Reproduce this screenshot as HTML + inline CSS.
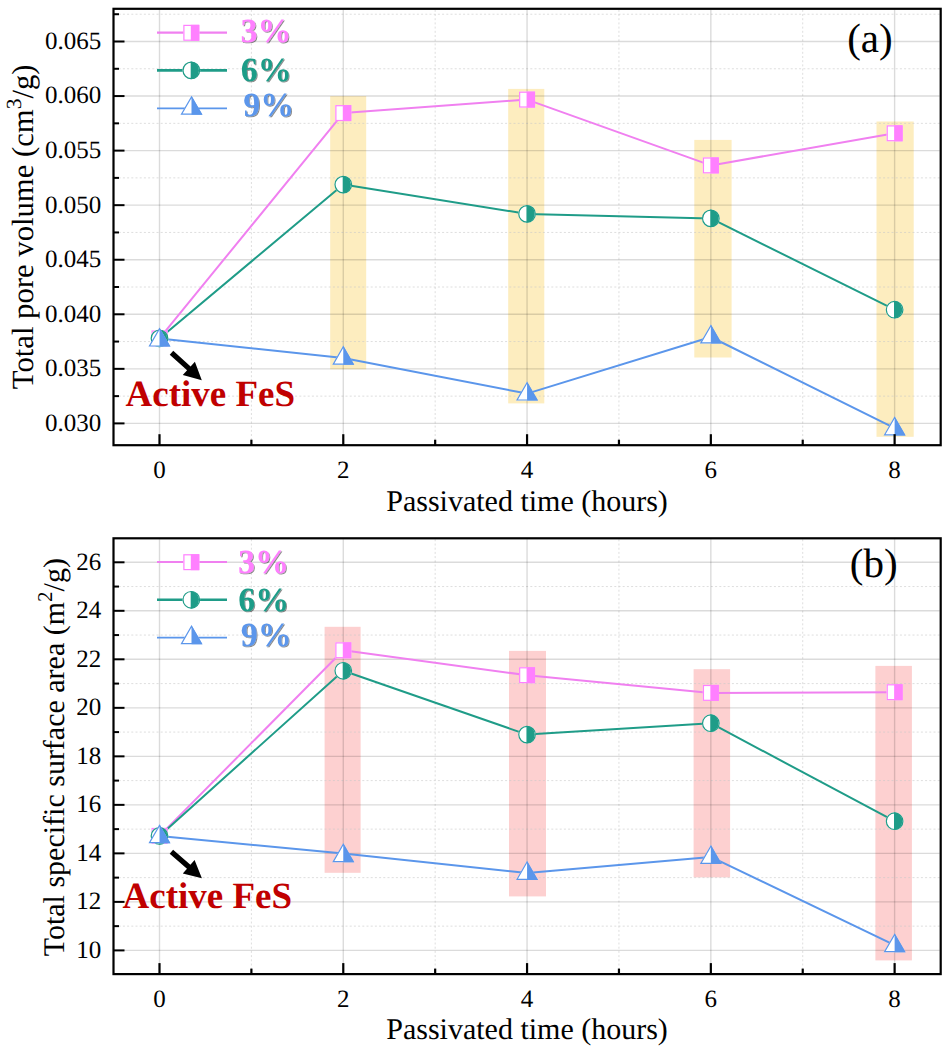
<!DOCTYPE html>
<html><head><meta charset="utf-8"><title>Pore volume and surface area</title>
<style>html,body{margin:0;padding:0;background:#fff;}svg{display:block;}text{text-rendering:geometricPrecision;font-family:'Liberation Serif', serif;}</style>
</head><body>
<svg width="945" height="1047" viewBox="0 0 945 1047">
<rect width="945" height="1047" fill="#fff"/>
<defs><filter id="sh" x="-10%" y="-10%" width="130%" height="140%"><feGaussianBlur in="SourceAlpha" stdDeviation="0.6"/><feOffset dx="1.4" dy="1.4" result="o"/><feFlood flood-color="#000" flood-opacity="0.45"/><feComposite in2="o" operator="in"/><feMerge><feMergeNode/><feMergeNode in="SourceGraphic"/></feMerge></filter></defs>
<rect x="330.2" y="96.1" width="36.00" height="273.20" fill="#fdedbf"/>
<rect x="508.2" y="88.9" width="36.10" height="314.50" fill="#fdedbf"/>
<rect x="694.3" y="139.9" width="37.30" height="217.60" fill="#fdedbf"/>
<rect x="876.5" y="121.5" width="37.20" height="315.30" fill="#fdedbf"/>
<line x1="114.5" x2="939.7" y1="396.12" y2="396.12" stroke="#c8c8c8" stroke-width="1" stroke-dasharray="2 2.2" opacity="0.6"/>
<line x1="114.5" x2="939.7" y1="341.56" y2="341.56" stroke="#c8c8c8" stroke-width="1" stroke-dasharray="2 2.2" opacity="0.6"/>
<line x1="114.5" x2="939.7" y1="287.01" y2="287.01" stroke="#c8c8c8" stroke-width="1" stroke-dasharray="2 2.2" opacity="0.6"/>
<line x1="114.5" x2="939.7" y1="232.45" y2="232.45" stroke="#c8c8c8" stroke-width="1" stroke-dasharray="2 2.2" opacity="0.6"/>
<line x1="114.5" x2="939.7" y1="177.89" y2="177.89" stroke="#c8c8c8" stroke-width="1" stroke-dasharray="2 2.2" opacity="0.6"/>
<line x1="114.5" x2="939.7" y1="123.34" y2="123.34" stroke="#c8c8c8" stroke-width="1" stroke-dasharray="2 2.2" opacity="0.6"/>
<line x1="114.5" x2="939.7" y1="68.78" y2="68.78" stroke="#c8c8c8" stroke-width="1" stroke-dasharray="2 2.2" opacity="0.6"/>
<line x1="114.5" x2="939.7" y1="14.22" y2="14.22" stroke="#c8c8c8" stroke-width="1" stroke-dasharray="2 2.2" opacity="0.6"/>
<line x1="251.39" x2="251.39" y1="9.8" y2="444.2" stroke="#c8c8c8" stroke-width="1" stroke-dasharray="2 2.2" opacity="0.6"/>
<line x1="435.17" x2="435.17" y1="9.8" y2="444.2" stroke="#c8c8c8" stroke-width="1" stroke-dasharray="2 2.2" opacity="0.6"/>
<line x1="618.95" x2="618.95" y1="9.8" y2="444.2" stroke="#c8c8c8" stroke-width="1" stroke-dasharray="2 2.2" opacity="0.6"/>
<line x1="802.73" x2="802.73" y1="9.8" y2="444.2" stroke="#c8c8c8" stroke-width="1" stroke-dasharray="2 2.2" opacity="0.6"/>
<line x1="114.5" x2="939.7" y1="423.40" y2="423.40" stroke="#000" stroke-opacity="0.14" stroke-width="1.4"/>
<line x1="114.5" x2="939.7" y1="368.84" y2="368.84" stroke="#000" stroke-opacity="0.14" stroke-width="1.4"/>
<line x1="114.5" x2="939.7" y1="314.29" y2="314.29" stroke="#000" stroke-opacity="0.14" stroke-width="1.4"/>
<line x1="114.5" x2="939.7" y1="259.73" y2="259.73" stroke="#000" stroke-opacity="0.14" stroke-width="1.4"/>
<line x1="114.5" x2="939.7" y1="205.17" y2="205.17" stroke="#000" stroke-opacity="0.14" stroke-width="1.4"/>
<line x1="114.5" x2="939.7" y1="150.61" y2="150.61" stroke="#000" stroke-opacity="0.14" stroke-width="1.4"/>
<line x1="114.5" x2="939.7" y1="96.06" y2="96.06" stroke="#000" stroke-opacity="0.14" stroke-width="1.4"/>
<line x1="114.5" x2="939.7" y1="41.50" y2="41.50" stroke="#000" stroke-opacity="0.14" stroke-width="1.4"/>
<line x1="159.50" x2="159.50" y1="9.8" y2="444.2" stroke="#000" stroke-opacity="0.14" stroke-width="1.4"/>
<line x1="343.28" x2="343.28" y1="9.8" y2="444.2" stroke="#000" stroke-opacity="0.14" stroke-width="1.4"/>
<line x1="527.06" x2="527.06" y1="9.8" y2="444.2" stroke="#000" stroke-opacity="0.14" stroke-width="1.4"/>
<line x1="710.84" x2="710.84" y1="9.8" y2="444.2" stroke="#000" stroke-opacity="0.14" stroke-width="1.4"/>
<line x1="894.62" x2="894.62" y1="9.8" y2="444.2" stroke="#000" stroke-opacity="0.14" stroke-width="1.4"/>
<polyline points="159.50,338.40 343.28,113.10 527.06,99.60 710.84,165.40 894.62,133.30" fill="none" stroke="#f080f0" stroke-width="2.0" stroke-linejoin="round"/>
<polyline points="159.50,338.40 343.28,184.60 527.06,213.90 710.84,218.40 894.62,309.70" fill="none" stroke="#1f9c88" stroke-width="2.0" stroke-linejoin="round"/>
<polyline points="159.50,338.40 343.28,358.00 527.06,393.60 710.84,337.00 894.62,428.20" fill="none" stroke="#5b96eb" stroke-width="2.0" stroke-linejoin="round"/>
<rect x="151.50" y="330.40" width="16.00" height="16.00" fill="#fff"/>
<rect x="159.00" y="330.40" width="8.50" height="16.00" fill="#ff80ff"/>
<rect x="152.10" y="331.00" width="14.80" height="14.80" fill="none" stroke="#ff80ff" stroke-width="1.2"/>
<rect x="335.28" y="105.10" width="16.00" height="16.00" fill="#fff"/>
<rect x="342.78" y="105.10" width="8.50" height="16.00" fill="#ff80ff"/>
<rect x="335.88" y="105.70" width="14.80" height="14.80" fill="none" stroke="#ff80ff" stroke-width="1.2"/>
<rect x="519.06" y="91.60" width="16.00" height="16.00" fill="#fff"/>
<rect x="526.56" y="91.60" width="8.50" height="16.00" fill="#ff80ff"/>
<rect x="519.66" y="92.20" width="14.80" height="14.80" fill="none" stroke="#ff80ff" stroke-width="1.2"/>
<rect x="702.84" y="157.40" width="16.00" height="16.00" fill="#fff"/>
<rect x="710.34" y="157.40" width="8.50" height="16.00" fill="#ff80ff"/>
<rect x="703.44" y="158.00" width="14.80" height="14.80" fill="none" stroke="#ff80ff" stroke-width="1.2"/>
<rect x="886.62" y="125.30" width="16.00" height="16.00" fill="#fff"/>
<rect x="894.12" y="125.30" width="8.50" height="16.00" fill="#ff80ff"/>
<rect x="887.22" y="125.90" width="14.80" height="14.80" fill="none" stroke="#ff80ff" stroke-width="1.2"/>
<circle cx="159.50" cy="338.40" r="8.90" fill="#fff"/>
<path d="M158.90,329.52 A8.90,8.90 0 0 1 158.90,347.28 Z" fill="#1f9c88"/>
<circle cx="159.50" cy="338.40" r="8.30" fill="none" stroke="#1f9c88" stroke-width="1.2"/>
<circle cx="343.28" cy="184.60" r="8.90" fill="#fff"/>
<path d="M342.68,175.72 A8.90,8.90 0 0 1 342.68,193.48 Z" fill="#1f9c88"/>
<circle cx="343.28" cy="184.60" r="8.30" fill="none" stroke="#1f9c88" stroke-width="1.2"/>
<circle cx="527.06" cy="213.90" r="8.90" fill="#fff"/>
<path d="M526.46,205.02 A8.90,8.90 0 0 1 526.46,222.78 Z" fill="#1f9c88"/>
<circle cx="527.06" cy="213.90" r="8.30" fill="none" stroke="#1f9c88" stroke-width="1.2"/>
<circle cx="710.84" cy="218.40" r="8.90" fill="#fff"/>
<path d="M710.24,209.52 A8.90,8.90 0 0 1 710.24,227.28 Z" fill="#1f9c88"/>
<circle cx="710.84" cy="218.40" r="8.30" fill="none" stroke="#1f9c88" stroke-width="1.2"/>
<circle cx="894.62" cy="309.70" r="8.90" fill="#fff"/>
<path d="M894.02,300.82 A8.90,8.90 0 0 1 894.02,318.58 Z" fill="#1f9c88"/>
<circle cx="894.62" cy="309.70" r="8.30" fill="none" stroke="#1f9c88" stroke-width="1.2"/>
<path d="M159.50,327.70 L170.30,346.60 L148.70,346.60 Z" fill="#fff"/>
<path d="M159.50,327.70 L170.30,346.60 L159.50,346.60 Z" fill="#5b96eb"/>
<path d="M159.50,328.70 L169.50,346.00 L149.50,346.00 Z" fill="none" stroke="#5b96eb" stroke-width="1.2" stroke-linejoin="miter"/>
<path d="M343.28,345.80 L354.08,364.70 L332.48,364.70 Z" fill="#fff"/>
<path d="M343.28,345.80 L354.08,364.70 L343.28,364.70 Z" fill="#5b96eb"/>
<path d="M343.28,346.80 L353.28,364.10 L333.28,364.10 Z" fill="none" stroke="#5b96eb" stroke-width="1.2" stroke-linejoin="miter"/>
<path d="M527.06,381.70 L537.86,400.60 L516.26,400.60 Z" fill="#fff"/>
<path d="M527.06,381.70 L537.86,400.60 L527.06,400.60 Z" fill="#5b96eb"/>
<path d="M527.06,382.70 L537.06,400.00 L517.06,400.00 Z" fill="none" stroke="#5b96eb" stroke-width="1.2" stroke-linejoin="miter"/>
<path d="M710.84,324.60 L721.64,343.50 L700.04,343.50 Z" fill="#fff"/>
<path d="M710.84,324.60 L721.64,343.50 L710.84,343.50 Z" fill="#5b96eb"/>
<path d="M710.84,325.60 L720.84,342.90 L700.84,342.90 Z" fill="none" stroke="#5b96eb" stroke-width="1.2" stroke-linejoin="miter"/>
<path d="M894.62,416.50 L905.42,435.40 L883.82,435.40 Z" fill="#fff"/>
<path d="M894.62,416.50 L905.42,435.40 L894.62,435.40 Z" fill="#5b96eb"/>
<path d="M894.62,417.50 L904.62,434.80 L884.62,434.80 Z" fill="none" stroke="#5b96eb" stroke-width="1.2" stroke-linejoin="miter"/>
<rect x="113.5" y="8.8" width="827.20" height="436.40" fill="none" stroke="#000" stroke-width="2.2"/>
<line x1="113.5" x2="124.5" y1="423.40" y2="423.40" stroke="#000" stroke-width="2"/>
<line x1="113.5" x2="124.5" y1="368.84" y2="368.84" stroke="#000" stroke-width="2"/>
<line x1="113.5" x2="124.5" y1="314.29" y2="314.29" stroke="#000" stroke-width="2"/>
<line x1="113.5" x2="124.5" y1="259.73" y2="259.73" stroke="#000" stroke-width="2"/>
<line x1="113.5" x2="124.5" y1="205.17" y2="205.17" stroke="#000" stroke-width="2"/>
<line x1="113.5" x2="124.5" y1="150.61" y2="150.61" stroke="#000" stroke-width="2"/>
<line x1="113.5" x2="124.5" y1="96.06" y2="96.06" stroke="#000" stroke-width="2"/>
<line x1="113.5" x2="124.5" y1="41.50" y2="41.50" stroke="#000" stroke-width="2"/>
<line x1="113.5" x2="119.0" y1="396.12" y2="396.12" stroke="#000" stroke-width="2"/>
<line x1="113.5" x2="119.0" y1="341.56" y2="341.56" stroke="#000" stroke-width="2"/>
<line x1="113.5" x2="119.0" y1="287.01" y2="287.01" stroke="#000" stroke-width="2"/>
<line x1="113.5" x2="119.0" y1="232.45" y2="232.45" stroke="#000" stroke-width="2"/>
<line x1="113.5" x2="119.0" y1="177.89" y2="177.89" stroke="#000" stroke-width="2"/>
<line x1="113.5" x2="119.0" y1="123.34" y2="123.34" stroke="#000" stroke-width="2"/>
<line x1="113.5" x2="119.0" y1="68.78" y2="68.78" stroke="#000" stroke-width="2"/>
<line x1="113.5" x2="119.0" y1="14.22" y2="14.22" stroke="#000" stroke-width="2"/>
<line x1="159.50" x2="159.50" y1="445.2" y2="434.2" stroke="#000" stroke-width="2.2"/>
<line x1="343.28" x2="343.28" y1="445.2" y2="434.2" stroke="#000" stroke-width="2.2"/>
<line x1="527.06" x2="527.06" y1="445.2" y2="434.2" stroke="#000" stroke-width="2.2"/>
<line x1="710.84" x2="710.84" y1="445.2" y2="434.2" stroke="#000" stroke-width="2.2"/>
<line x1="894.62" x2="894.62" y1="445.2" y2="434.2" stroke="#000" stroke-width="2.2"/>
<line x1="251.39" x2="251.39" y1="445.2" y2="439.7" stroke="#000" stroke-width="2.2"/>
<line x1="435.17" x2="435.17" y1="445.2" y2="439.7" stroke="#000" stroke-width="2.2"/>
<line x1="618.95" x2="618.95" y1="445.2" y2="439.7" stroke="#000" stroke-width="2.2"/>
<line x1="802.73" x2="802.73" y1="445.2" y2="439.7" stroke="#000" stroke-width="2.2"/>
<text x="101.3" y="430.75" text-anchor="end" font-size="25">0.030</text>
<text x="101.3" y="376.19" text-anchor="end" font-size="25">0.035</text>
<text x="101.3" y="321.64" text-anchor="end" font-size="25">0.040</text>
<text x="101.3" y="267.08" text-anchor="end" font-size="25">0.045</text>
<text x="101.3" y="212.52" text-anchor="end" font-size="25">0.050</text>
<text x="101.3" y="157.96" text-anchor="end" font-size="25">0.055</text>
<text x="101.3" y="103.41" text-anchor="end" font-size="25">0.060</text>
<text x="101.3" y="48.85" text-anchor="end" font-size="25">0.065</text>
<text x="159.50" y="477.90" text-anchor="middle" font-size="25">0</text>
<text x="343.28" y="477.90" text-anchor="middle" font-size="25">2</text>
<text x="527.06" y="477.90" text-anchor="middle" font-size="25">4</text>
<text x="710.84" y="477.90" text-anchor="middle" font-size="25">6</text>
<text x="894.62" y="477.90" text-anchor="middle" font-size="25">8</text>
<text x="527.06" y="510.50" text-anchor="middle" font-size="30">Passivated time (hours)</text>
<text transform="translate(33.0,226.8) rotate(-90)" text-anchor="middle" font-size="30.7">Total pore volume (cm<tspan font-size="21.5" dy="-12">3</tspan><tspan dy="12">/g)</tspan></text>
<text x="847.2" y="51.5" font-size="41">(a)</text>
<line x1="157" x2="227" y1="32.6" y2="32.6" stroke="#f080f0" stroke-width="2.1"/>
<line x1="157" x2="227" y1="70.4" y2="70.4" stroke="#1f9c88" stroke-width="2.6"/>
<line x1="157" x2="227" y1="108.3" y2="108.3" stroke="#5b96eb" stroke-width="1.8"/>
<rect x="183.30" y="24.80" width="16.00" height="16.00" fill="#fff"/>
<rect x="190.80" y="24.80" width="8.50" height="16.00" fill="#ff80ff"/>
<rect x="183.90" y="25.40" width="14.80" height="14.80" fill="none" stroke="#ff80ff" stroke-width="1.2"/>
<circle cx="191.30" cy="70.40" r="8.90" fill="#fff"/>
<path d="M190.70,61.52 A8.90,8.90 0 0 1 190.70,79.28 Z" fill="#1f9c88"/>
<circle cx="191.30" cy="70.40" r="8.30" fill="none" stroke="#1f9c88" stroke-width="1.2"/>
<path d="M191.50,95.90 L202.30,114.80 L180.70,114.80 Z" fill="#fff"/>
<path d="M191.50,95.90 L202.30,114.80 L191.50,114.80 Z" fill="#5b96eb"/>
<path d="M191.50,96.90 L201.50,114.20 L181.50,114.20 Z" fill="none" stroke="#5b96eb" stroke-width="1.2" stroke-linejoin="miter"/>
<text x="240.50" y="42.00" font-size="34" font-weight="bold" fill="#ff80ff" filter="url(#sh)">3%</text>
<text x="240.80" y="80.60" font-size="34" font-weight="bold" fill="#1f9c88" filter="url(#sh)">6%</text>
<text x="243.20" y="115.60" font-size="34" font-weight="bold" fill="#5b96eb" filter="url(#sh)">9%</text>
<path d="M169.75,354.63 L187.09,370.36 L182.79,375.10 L201.80,380.20 L194.89,361.77 L190.59,366.51 L173.25,350.77 Z" fill="#000"/>
<text x="125.5" y="405.7" font-size="37" font-weight="bold" fill="#c00000">Active FeS</text>
<rect x="324.6" y="626.8" width="36.00" height="246.00" fill="#fdd0d0"/>
<rect x="509.0" y="650.9" width="37.00" height="245.50" fill="#fdd0d0"/>
<rect x="693.6" y="669.2" width="36.50" height="208.20" fill="#fdd0d0"/>
<rect x="875.4" y="665.9" width="36.50" height="294.50" fill="#fdd0d0"/>
<line x1="114.5" x2="939.7" y1="926.14" y2="926.14" stroke="#c8c8c8" stroke-width="1" stroke-dasharray="2 2.2" opacity="0.6"/>
<line x1="114.5" x2="939.7" y1="877.63" y2="877.63" stroke="#c8c8c8" stroke-width="1" stroke-dasharray="2 2.2" opacity="0.6"/>
<line x1="114.5" x2="939.7" y1="829.12" y2="829.12" stroke="#c8c8c8" stroke-width="1" stroke-dasharray="2 2.2" opacity="0.6"/>
<line x1="114.5" x2="939.7" y1="780.60" y2="780.60" stroke="#c8c8c8" stroke-width="1" stroke-dasharray="2 2.2" opacity="0.6"/>
<line x1="114.5" x2="939.7" y1="732.09" y2="732.09" stroke="#c8c8c8" stroke-width="1" stroke-dasharray="2 2.2" opacity="0.6"/>
<line x1="114.5" x2="939.7" y1="683.58" y2="683.58" stroke="#c8c8c8" stroke-width="1" stroke-dasharray="2 2.2" opacity="0.6"/>
<line x1="114.5" x2="939.7" y1="635.07" y2="635.07" stroke="#c8c8c8" stroke-width="1" stroke-dasharray="2 2.2" opacity="0.6"/>
<line x1="114.5" x2="939.7" y1="586.56" y2="586.56" stroke="#c8c8c8" stroke-width="1" stroke-dasharray="2 2.2" opacity="0.6"/>
<line x1="251.39" x2="251.39" y1="539.3" y2="973.1" stroke="#c8c8c8" stroke-width="1" stroke-dasharray="2 2.2" opacity="0.6"/>
<line x1="435.17" x2="435.17" y1="539.3" y2="973.1" stroke="#c8c8c8" stroke-width="1" stroke-dasharray="2 2.2" opacity="0.6"/>
<line x1="618.95" x2="618.95" y1="539.3" y2="973.1" stroke="#c8c8c8" stroke-width="1" stroke-dasharray="2 2.2" opacity="0.6"/>
<line x1="802.73" x2="802.73" y1="539.3" y2="973.1" stroke="#c8c8c8" stroke-width="1" stroke-dasharray="2 2.2" opacity="0.6"/>
<line x1="114.5" x2="939.7" y1="950.40" y2="950.40" stroke="#000" stroke-opacity="0.14" stroke-width="1.4"/>
<line x1="114.5" x2="939.7" y1="901.88" y2="901.88" stroke="#000" stroke-opacity="0.14" stroke-width="1.4"/>
<line x1="114.5" x2="939.7" y1="853.37" y2="853.37" stroke="#000" stroke-opacity="0.14" stroke-width="1.4"/>
<line x1="114.5" x2="939.7" y1="804.86" y2="804.86" stroke="#000" stroke-opacity="0.14" stroke-width="1.4"/>
<line x1="114.5" x2="939.7" y1="756.35" y2="756.35" stroke="#000" stroke-opacity="0.14" stroke-width="1.4"/>
<line x1="114.5" x2="939.7" y1="707.84" y2="707.84" stroke="#000" stroke-opacity="0.14" stroke-width="1.4"/>
<line x1="114.5" x2="939.7" y1="659.32" y2="659.32" stroke="#000" stroke-opacity="0.14" stroke-width="1.4"/>
<line x1="114.5" x2="939.7" y1="610.81" y2="610.81" stroke="#000" stroke-opacity="0.14" stroke-width="1.4"/>
<line x1="114.5" x2="939.7" y1="562.30" y2="562.30" stroke="#000" stroke-opacity="0.14" stroke-width="1.4"/>
<line x1="159.50" x2="159.50" y1="539.3" y2="973.1" stroke="#000" stroke-opacity="0.14" stroke-width="1.4"/>
<line x1="343.28" x2="343.28" y1="539.3" y2="973.1" stroke="#000" stroke-opacity="0.14" stroke-width="1.4"/>
<line x1="527.06" x2="527.06" y1="539.3" y2="973.1" stroke="#000" stroke-opacity="0.14" stroke-width="1.4"/>
<line x1="710.84" x2="710.84" y1="539.3" y2="973.1" stroke="#000" stroke-opacity="0.14" stroke-width="1.4"/>
<line x1="894.62" x2="894.62" y1="539.3" y2="973.1" stroke="#000" stroke-opacity="0.14" stroke-width="1.4"/>
<polyline points="159.50,835.90 343.28,650.30 527.06,675.20 710.84,692.90 894.62,692.20" fill="none" stroke="#f080f0" stroke-width="2.0" stroke-linejoin="round"/>
<polyline points="159.50,835.90 343.28,670.80 527.06,734.60 710.84,723.20 894.62,821.20" fill="none" stroke="#1f9c88" stroke-width="2.0" stroke-linejoin="round"/>
<polyline points="159.50,835.90 343.28,853.50 527.06,873.10 710.84,856.90 894.62,945.10" fill="none" stroke="#5b96eb" stroke-width="2.0" stroke-linejoin="round"/>
<rect x="151.50" y="827.90" width="16.00" height="16.00" fill="#fff"/>
<rect x="159.00" y="827.90" width="8.50" height="16.00" fill="#ff80ff"/>
<rect x="152.10" y="828.50" width="14.80" height="14.80" fill="none" stroke="#ff80ff" stroke-width="1.2"/>
<rect x="335.28" y="642.30" width="16.00" height="16.00" fill="#fff"/>
<rect x="342.78" y="642.30" width="8.50" height="16.00" fill="#ff80ff"/>
<rect x="335.88" y="642.90" width="14.80" height="14.80" fill="none" stroke="#ff80ff" stroke-width="1.2"/>
<rect x="519.06" y="667.20" width="16.00" height="16.00" fill="#fff"/>
<rect x="526.56" y="667.20" width="8.50" height="16.00" fill="#ff80ff"/>
<rect x="519.66" y="667.80" width="14.80" height="14.80" fill="none" stroke="#ff80ff" stroke-width="1.2"/>
<rect x="702.84" y="684.90" width="16.00" height="16.00" fill="#fff"/>
<rect x="710.34" y="684.90" width="8.50" height="16.00" fill="#ff80ff"/>
<rect x="703.44" y="685.50" width="14.80" height="14.80" fill="none" stroke="#ff80ff" stroke-width="1.2"/>
<rect x="886.62" y="684.20" width="16.00" height="16.00" fill="#fff"/>
<rect x="894.12" y="684.20" width="8.50" height="16.00" fill="#ff80ff"/>
<rect x="887.22" y="684.80" width="14.80" height="14.80" fill="none" stroke="#ff80ff" stroke-width="1.2"/>
<circle cx="159.50" cy="835.90" r="8.90" fill="#fff"/>
<path d="M158.90,827.02 A8.90,8.90 0 0 1 158.90,844.78 Z" fill="#1f9c88"/>
<circle cx="159.50" cy="835.90" r="8.30" fill="none" stroke="#1f9c88" stroke-width="1.2"/>
<circle cx="343.28" cy="670.80" r="8.90" fill="#fff"/>
<path d="M342.68,661.92 A8.90,8.90 0 0 1 342.68,679.68 Z" fill="#1f9c88"/>
<circle cx="343.28" cy="670.80" r="8.30" fill="none" stroke="#1f9c88" stroke-width="1.2"/>
<circle cx="527.06" cy="734.60" r="8.90" fill="#fff"/>
<path d="M526.46,725.72 A8.90,8.90 0 0 1 526.46,743.48 Z" fill="#1f9c88"/>
<circle cx="527.06" cy="734.60" r="8.30" fill="none" stroke="#1f9c88" stroke-width="1.2"/>
<circle cx="710.84" cy="723.20" r="8.90" fill="#fff"/>
<path d="M710.24,714.32 A8.90,8.90 0 0 1 710.24,732.08 Z" fill="#1f9c88"/>
<circle cx="710.84" cy="723.20" r="8.30" fill="none" stroke="#1f9c88" stroke-width="1.2"/>
<circle cx="894.62" cy="821.20" r="8.90" fill="#fff"/>
<path d="M894.02,812.32 A8.90,8.90 0 0 1 894.02,830.08 Z" fill="#1f9c88"/>
<circle cx="894.62" cy="821.20" r="8.30" fill="none" stroke="#1f9c88" stroke-width="1.2"/>
<path d="M159.50,824.40 L170.30,843.30 L148.70,843.30 Z" fill="#fff"/>
<path d="M159.50,824.40 L170.30,843.30 L159.50,843.30 Z" fill="#5b96eb"/>
<path d="M159.50,825.40 L169.50,842.70 L149.50,842.70 Z" fill="none" stroke="#5b96eb" stroke-width="1.2" stroke-linejoin="miter"/>
<path d="M343.28,843.30 L354.08,862.20 L332.48,862.20 Z" fill="#fff"/>
<path d="M343.28,843.30 L354.08,862.20 L343.28,862.20 Z" fill="#5b96eb"/>
<path d="M343.28,844.30 L353.28,861.60 L333.28,861.60 Z" fill="none" stroke="#5b96eb" stroke-width="1.2" stroke-linejoin="miter"/>
<path d="M527.06,861.00 L537.86,879.90 L516.26,879.90 Z" fill="#fff"/>
<path d="M527.06,861.00 L537.86,879.90 L527.06,879.90 Z" fill="#5b96eb"/>
<path d="M527.06,862.00 L537.06,879.30 L517.06,879.30 Z" fill="none" stroke="#5b96eb" stroke-width="1.2" stroke-linejoin="miter"/>
<path d="M710.84,845.10 L721.64,864.00 L700.04,864.00 Z" fill="#fff"/>
<path d="M710.84,845.10 L721.64,864.00 L710.84,864.00 Z" fill="#5b96eb"/>
<path d="M710.84,846.10 L720.84,863.40 L700.84,863.40 Z" fill="none" stroke="#5b96eb" stroke-width="1.2" stroke-linejoin="miter"/>
<path d="M894.62,933.40 L905.42,952.30 L883.82,952.30 Z" fill="#fff"/>
<path d="M894.62,933.40 L905.42,952.30 L894.62,952.30 Z" fill="#5b96eb"/>
<path d="M894.62,934.40 L904.62,951.70 L884.62,951.70 Z" fill="none" stroke="#5b96eb" stroke-width="1.2" stroke-linejoin="miter"/>
<rect x="113.5" y="538.3" width="827.20" height="435.80" fill="none" stroke="#000" stroke-width="2.2"/>
<line x1="113.5" x2="124.5" y1="950.40" y2="950.40" stroke="#000" stroke-width="2"/>
<line x1="113.5" x2="124.5" y1="901.88" y2="901.88" stroke="#000" stroke-width="2"/>
<line x1="113.5" x2="124.5" y1="853.37" y2="853.37" stroke="#000" stroke-width="2"/>
<line x1="113.5" x2="124.5" y1="804.86" y2="804.86" stroke="#000" stroke-width="2"/>
<line x1="113.5" x2="124.5" y1="756.35" y2="756.35" stroke="#000" stroke-width="2"/>
<line x1="113.5" x2="124.5" y1="707.84" y2="707.84" stroke="#000" stroke-width="2"/>
<line x1="113.5" x2="124.5" y1="659.32" y2="659.32" stroke="#000" stroke-width="2"/>
<line x1="113.5" x2="124.5" y1="610.81" y2="610.81" stroke="#000" stroke-width="2"/>
<line x1="113.5" x2="124.5" y1="562.30" y2="562.30" stroke="#000" stroke-width="2"/>
<line x1="113.5" x2="119.0" y1="926.14" y2="926.14" stroke="#000" stroke-width="2"/>
<line x1="113.5" x2="119.0" y1="877.63" y2="877.63" stroke="#000" stroke-width="2"/>
<line x1="113.5" x2="119.0" y1="829.12" y2="829.12" stroke="#000" stroke-width="2"/>
<line x1="113.5" x2="119.0" y1="780.60" y2="780.60" stroke="#000" stroke-width="2"/>
<line x1="113.5" x2="119.0" y1="732.09" y2="732.09" stroke="#000" stroke-width="2"/>
<line x1="113.5" x2="119.0" y1="683.58" y2="683.58" stroke="#000" stroke-width="2"/>
<line x1="113.5" x2="119.0" y1="635.07" y2="635.07" stroke="#000" stroke-width="2"/>
<line x1="113.5" x2="119.0" y1="586.56" y2="586.56" stroke="#000" stroke-width="2"/>
<line x1="159.50" x2="159.50" y1="974.1" y2="963.1" stroke="#000" stroke-width="2.2"/>
<line x1="343.28" x2="343.28" y1="974.1" y2="963.1" stroke="#000" stroke-width="2.2"/>
<line x1="527.06" x2="527.06" y1="974.1" y2="963.1" stroke="#000" stroke-width="2.2"/>
<line x1="710.84" x2="710.84" y1="974.1" y2="963.1" stroke="#000" stroke-width="2.2"/>
<line x1="894.62" x2="894.62" y1="974.1" y2="963.1" stroke="#000" stroke-width="2.2"/>
<line x1="251.39" x2="251.39" y1="974.1" y2="968.6" stroke="#000" stroke-width="2.2"/>
<line x1="435.17" x2="435.17" y1="974.1" y2="968.6" stroke="#000" stroke-width="2.2"/>
<line x1="618.95" x2="618.95" y1="974.1" y2="968.6" stroke="#000" stroke-width="2.2"/>
<line x1="802.73" x2="802.73" y1="974.1" y2="968.6" stroke="#000" stroke-width="2.2"/>
<text x="101.3" y="957.75" text-anchor="end" font-size="25">10</text>
<text x="101.3" y="909.23" text-anchor="end" font-size="25">12</text>
<text x="101.3" y="860.72" text-anchor="end" font-size="25">14</text>
<text x="101.3" y="812.21" text-anchor="end" font-size="25">16</text>
<text x="101.3" y="763.70" text-anchor="end" font-size="25">18</text>
<text x="101.3" y="715.19" text-anchor="end" font-size="25">20</text>
<text x="101.3" y="666.67" text-anchor="end" font-size="25">22</text>
<text x="101.3" y="618.16" text-anchor="end" font-size="25">24</text>
<text x="101.3" y="569.65" text-anchor="end" font-size="25">26</text>
<text x="159.50" y="1006.80" text-anchor="middle" font-size="25">0</text>
<text x="343.28" y="1006.80" text-anchor="middle" font-size="25">2</text>
<text x="527.06" y="1006.80" text-anchor="middle" font-size="25">4</text>
<text x="710.84" y="1006.80" text-anchor="middle" font-size="25">6</text>
<text x="894.62" y="1006.80" text-anchor="middle" font-size="25">8</text>
<text x="527.06" y="1039.40" text-anchor="middle" font-size="30">Passivated time (hours)</text>
<text transform="translate(63.8,757.2) rotate(-90)" text-anchor="middle" font-size="30">Total specific surface area (m<tspan font-size="21.0" dy="-12">2</tspan><tspan dy="12">/g)</tspan></text>
<text x="849.8" y="576.8" font-size="41">(b)</text>
<line x1="157" x2="227" y1="562.0" y2="562.0" stroke="#f080f0" stroke-width="2.1"/>
<line x1="157" x2="227" y1="599.8" y2="599.8" stroke="#1f9c88" stroke-width="2.6"/>
<line x1="157" x2="227" y1="637.6999999999999" y2="637.6999999999999" stroke="#5b96eb" stroke-width="1.8"/>
<rect x="183.30" y="554.20" width="16.00" height="16.00" fill="#fff"/>
<rect x="190.80" y="554.20" width="8.50" height="16.00" fill="#ff80ff"/>
<rect x="183.90" y="554.80" width="14.80" height="14.80" fill="none" stroke="#ff80ff" stroke-width="1.2"/>
<circle cx="191.30" cy="599.80" r="8.90" fill="#fff"/>
<path d="M190.70,590.92 A8.90,8.90 0 0 1 190.70,608.68 Z" fill="#1f9c88"/>
<circle cx="191.30" cy="599.80" r="8.30" fill="none" stroke="#1f9c88" stroke-width="1.2"/>
<path d="M191.50,625.30 L202.30,644.20 L180.70,644.20 Z" fill="#fff"/>
<path d="M191.50,625.30 L202.30,644.20 L191.50,644.20 Z" fill="#5b96eb"/>
<path d="M191.50,626.30 L201.50,643.60 L181.50,643.60 Z" fill="none" stroke="#5b96eb" stroke-width="1.2" stroke-linejoin="miter"/>
<text x="238.00" y="572.80" font-size="34" font-weight="bold" fill="#ff80ff" filter="url(#sh)">3%</text>
<text x="238.30" y="611.40" font-size="34" font-weight="bold" fill="#1f9c88" filter="url(#sh)">6%</text>
<text x="240.70" y="646.40" font-size="34" font-weight="bold" fill="#5b96eb" filter="url(#sh)">9%</text>
<path d="M169.69,853.66 L186.98,868.68 L182.79,873.52 L201.90,878.20 L194.59,859.93 L190.40,864.76 L173.11,849.74 Z" fill="#000"/>
<text x="122.6" y="908.2" font-size="37" font-weight="bold" fill="#c00000">Active FeS</text>
</svg>
</body></html>
